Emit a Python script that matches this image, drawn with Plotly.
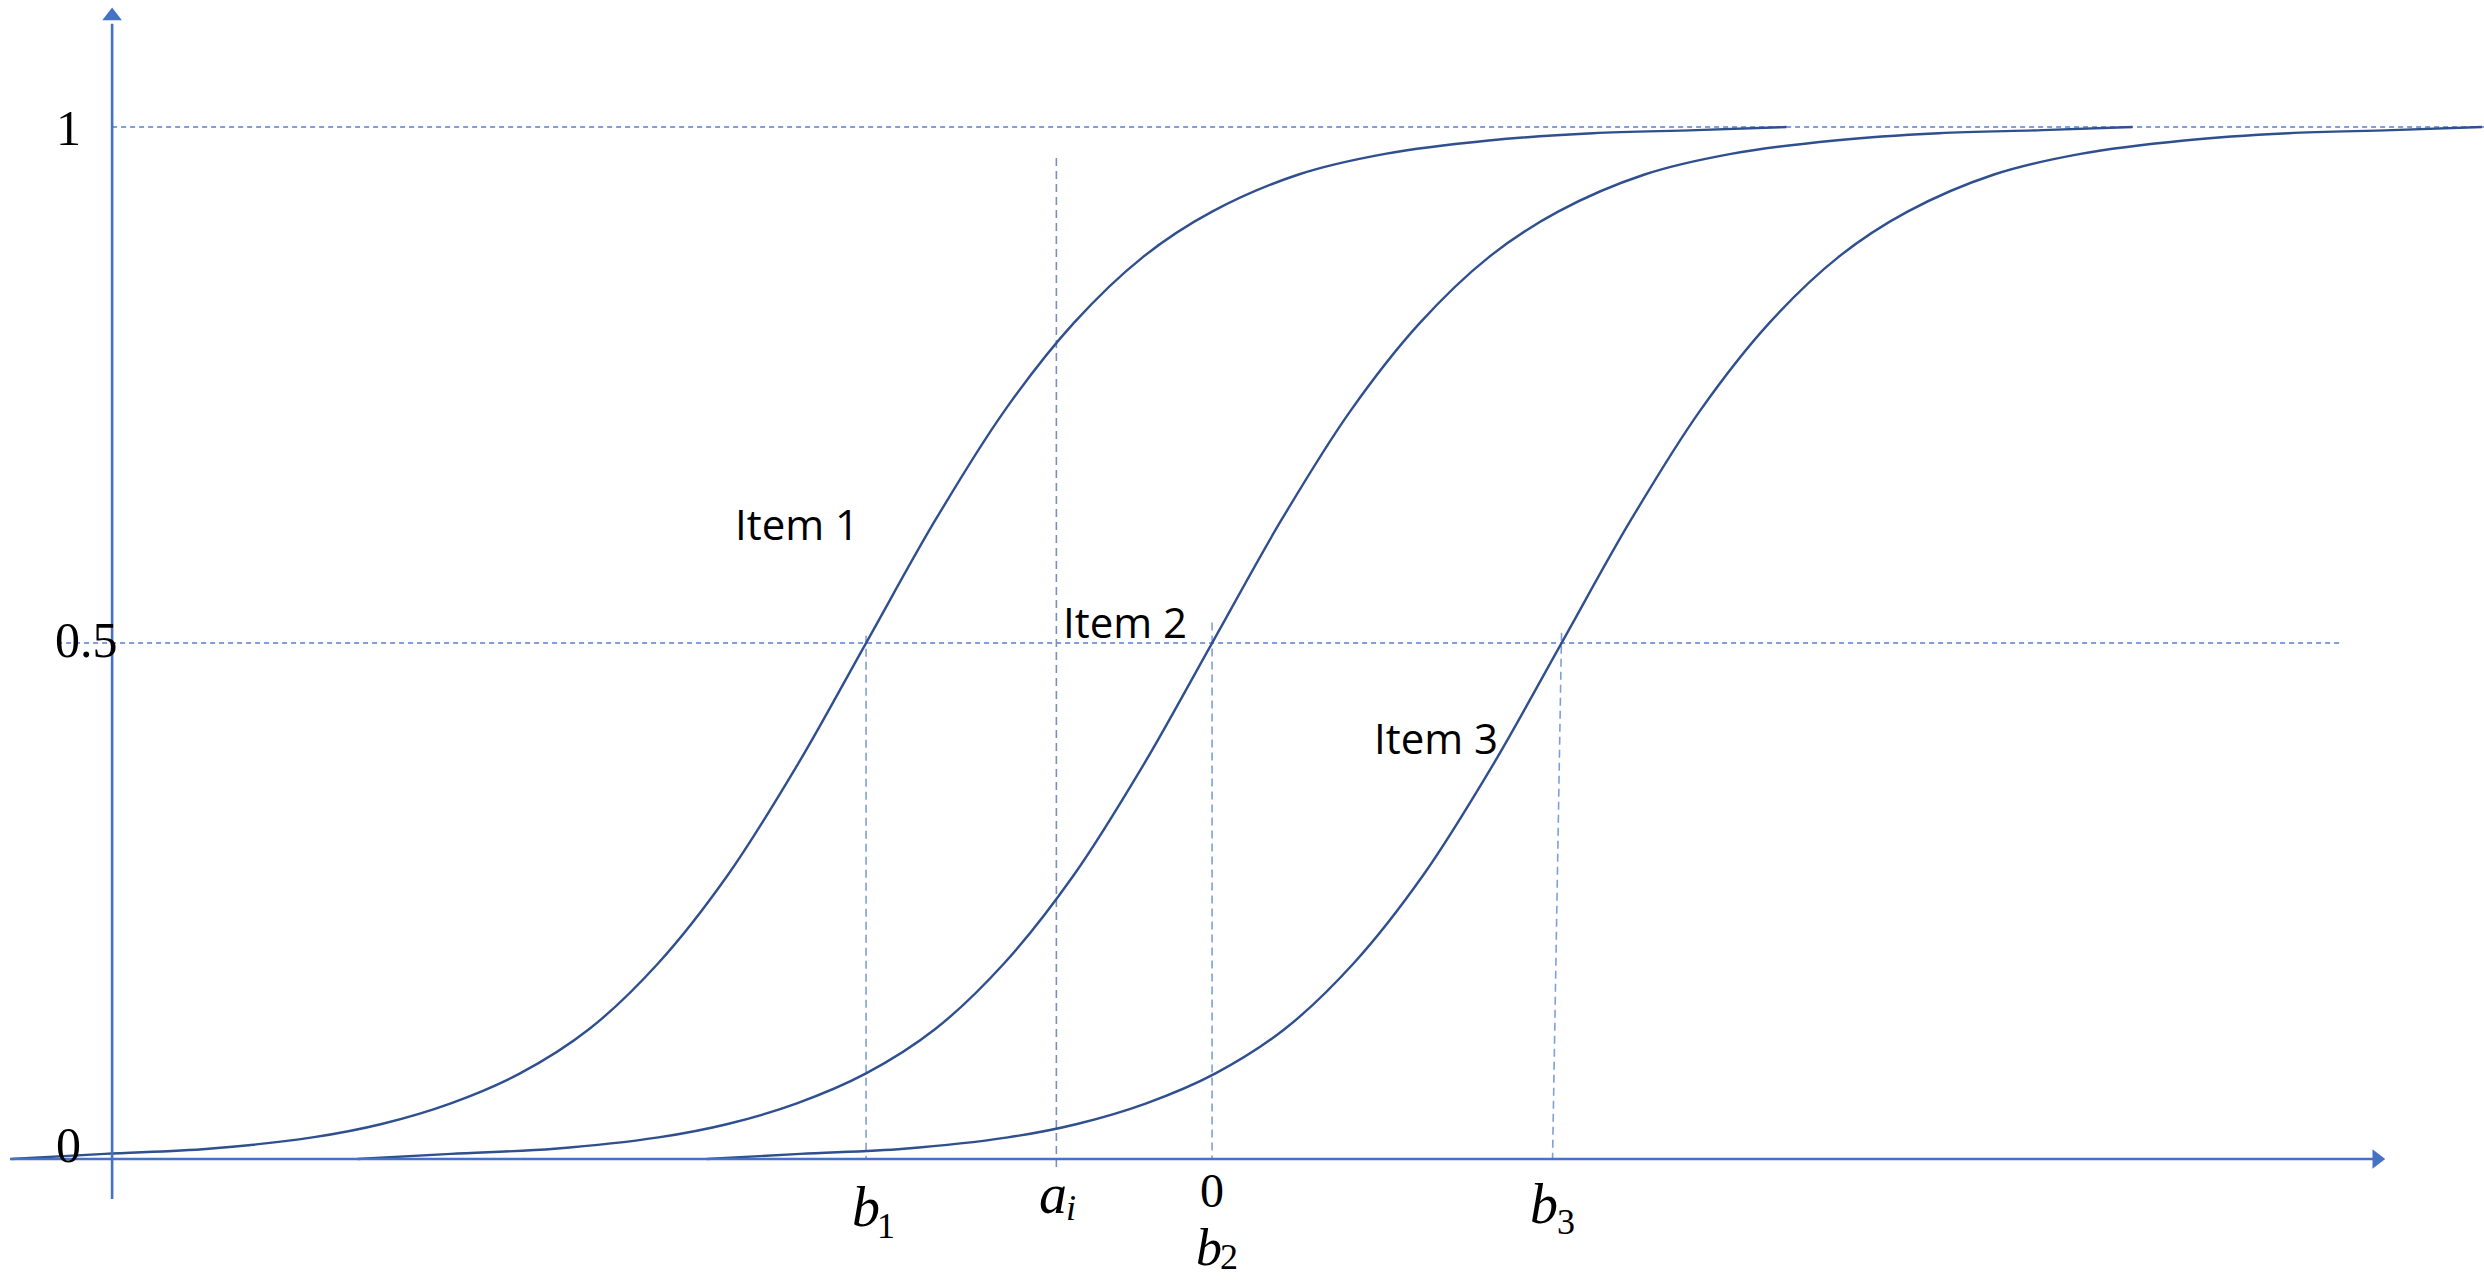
import plotly.graph_objects as go

# ---- data (theta = ability scale, p = probability of a correct answer) ----
p_values = [0.0, 0.005, 0.010, 0.021, 0.034, 0.054, 0.083, 0.126, 0.190, 0.275,
            0.381, 0.500, 0.619, 0.725, 0.810, 0.874, 0.918, 0.954, 0.974, 0.987,
            0.994, 0.997, 1.0]
theta_item1 = [-3.47, -3.20, -2.90, -2.60, -2.40, -2.20, -2.00, -1.80, -1.60, -1.40,
               -1.20, -1.00, -0.80, -0.60, -0.40, -0.20, 0.00, 0.25, 0.50, 0.80,
               1.10, 1.40, 1.66]
theta_item2 = [-2.47, -2.20, -1.90, -1.60, -1.40, -1.20, -1.00, -0.80, -0.60, -0.40,
               -0.20, 0.00, 0.20, 0.40, 0.60, 0.80, 1.00, 1.25, 1.50, 1.80,
               2.10, 2.40, 2.66]
theta_item3 = [-1.46, -1.19, -0.89, -0.59, -0.39, -0.19, 0.01, 0.21, 0.41, 0.61,
               0.81, 1.01, 1.21, 1.41, 1.61, 1.81, 2.01, 2.26, 2.51, 2.81,
               3.11, 3.41, 3.67]
item_names = ["Item 1", "Item 2", "Item 3"]
b_values = [-1.00, 0.00, 1.01]
b_symbol = "b"
b_subscripts = ["1", "2", "3"]
a_i_value = -0.45
a_symbol = "a"
a_subscript = "i"
zero_label = "0"
y_tick_values = [0, 0.5, 1]
y_tick_labels = ["0", "0.5", "1"]

# ---- styling ----
CURVE = "#2F4F8F"
AXIS = "#4472C4"
GUIDE = "#7F9FDA"
SERIF = "Liberation Serif, DejaVu Serif, serif"
SANS = "Open Sans, Noto Sans, sans-serif"

X_RANGE = [-3.503, 3.676]
Y_RANGE = [-0.1172, 1.1231]
W, H = 2484, 1280


def tx(px):  # pixel column -> data x (layout helper for label placement)
    return X_RANGE[0] + px * (X_RANGE[1] - X_RANGE[0]) / W


def ty(py):  # pixel row -> data y (layout helper for label placement)
    return Y_RANGE[1] - py * (Y_RANGE[1] - Y_RANGE[0]) / H


fig = go.Figure()
for th, name in zip([theta_item1, theta_item2, theta_item3], item_names):
    fig.add_trace(go.Scatter(x=th, y=p_values, mode="lines", name=name,
                             line=dict(color=CURVE, width=2.4, shape="spline", smoothing=1.0),
                             hoverinfo="skip", showlegend=False))

# arrow heads of the two axes
fig.add_trace(go.Scatter(x=[3.366], y=[0], mode="markers", hoverinfo="skip", showlegend=False,
                         marker=dict(symbol="triangle-right", size=17, color=AXIS, line=dict(width=0))))
fig.add_trace(go.Scatter(x=[-3.179], y=[1.1076], mode="markers", hoverinfo="skip", showlegend=False,
                         marker=dict(symbol="triangle-up", size=17, color=AXIS, line=dict(width=0))))

shapes = []
# axis lines
shapes.append(dict(type="line", xref="x", yref="y", x0=-3.474, x1=3.36, y0=0, y1=0,
                   line=dict(color=AXIS, width=2.6)))
shapes.append(dict(type="line", xref="x", yref="y", x0=-3.179, x1=-3.179, y0=-0.0387, y1=1.10,
                   line=dict(color=AXIS, width=2.6)))
# horizontal guide lines at 1 and 0.5
shapes.append(dict(type="line", xref="x", yref="y", x0=-3.179, x1=X_RANGE[1], y0=1, y1=1,
                   line=dict(color=GUIDE, width=2, dash="5px,4px"), layer="below"))
shapes.append(dict(type="line", xref="x", yref="y", x0=-3.338, x1=3.268, y0=0.5, y1=0.5,
                   line=dict(color=GUIDE, width=2, dash="5px,4px"), layer="below"))
# vertical guides at b values
b_tops = [0.507, 0.52, 0.51]
b_bottom_shift = [0.0, 0.0, -0.026]
for b, top, sh in zip(b_values, b_tops, b_bottom_shift):
    shapes.append(dict(type="line", xref="x", yref="y", x0=b, x1=b + sh, y0=top, y1=0,
                       line=dict(color=GUIDE, width=1.6, dash="8px,5px"), layer="below"))
# vertical guide at a_i
shapes.append(dict(type="line", xref="x", yref="y", x0=a_i_value, x1=a_i_value, y0=0.97, y1=-0.008,
                   line=dict(color="#7C8FBA", width=1.6, dash="8px,5px"), layer="below"))
fig.update_layout(shapes=shapes)

ann = []


def label(x, y, text, size, italic=False, family=SERIF, xanchor="center"):
    ann.append(dict(x=x, y=y, xref="x", yref="y", text=text, showarrow=False,
                    xanchor=xanchor, yanchor="middle",
                    font=dict(family=family, size=size, color="black",
                              style="italic" if italic else "normal")))


# y tick labels
y_label_px = [(68, 1145), (86, 640), (68, 128)]
for v, t, (lx, ly) in zip(y_tick_values, y_tick_labels, y_label_px):
    label(tx(lx), ty(ly), t, 50)

# item labels
item_px = [(733, 523), (1061, 621), (1372, 737)]
for name, (lx, ly) in zip(item_names, item_px):
    label(tx(lx), ty(ly), name, 42, family=SANS, xanchor="left")

# x-axis labels: b_j with subscripts
b_main_px = [(866, 1207), (1209, 1247), (1544, 1204)]
b_sub_px = [(886, 1226), (1229, 1257), (1566, 1222)]
b_main_size = [56, 52, 56]
for s, (mx, my), (sx, sy), fs in zip(b_subscripts, b_main_px, b_sub_px, b_main_size):
    label(tx(mx), ty(my), b_symbol, fs, italic=True)
    label(tx(sx), ty(sy), s, 36)
# a_i
label(tx(1053), ty(1194), a_symbol, 56, italic=True)
label(tx(1071), ty(1208), a_subscript, 36, italic=True)
# the "0" above b2
label(tx(1212), ty(1190), zero_label, 48)

fig.update_layout(annotations=ann)

fig.update_layout(
    width=W, height=H,
    margin=dict(l=0, r=0, t=0, b=0),
    paper_bgcolor="white", plot_bgcolor="white",
    xaxis=dict(range=X_RANGE, visible=False, fixedrange=True),
    yaxis=dict(range=Y_RANGE, visible=False, fixedrange=True),
    showlegend=False,
)

fig.write_html("out.html")
